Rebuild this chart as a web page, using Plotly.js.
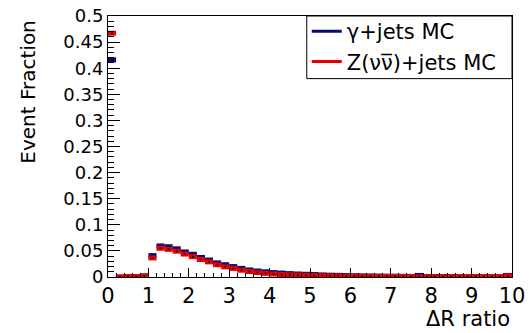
<!DOCTYPE html>
<html>
<head>
<meta charset="utf-8">
<script src="https://cdn.plot.ly/plotly-3.0.1.min.js"></script>
<style>html,body{margin:0;padding:0;background:#fff;}#chart{width:532px;height:333px;}</style>
</head>
<body>
<div id="chart"></div>
<script>
// Bin centres (width 0.2) of the ΔR ratio histogram
const binCenters = [0.1,0.3,0.5,0.7,0.9,1.1,1.3,1.5,1.7,1.9,2.1,2.3,2.5,2.7,2.9,3.1,3.3,3.5,3.7,3.9,4.1,4.3,4.5,4.7,4.9,5.1,5.3,5.5,5.7,5.9,6.1,6.3,6.5,6.7,6.9,7.1,7.3,7.5,7.7,7.9,8.1,8.3,8.5,8.7,8.9,9.1,9.3,9.5,9.7,9.9];
const binHalfWidth = 0.1;
// γ+jets MC
const gammaJets = [0.416,0.000,0.001,0.001,0.002,0.041,0.0595,0.058,0.054,0.048,0.0435,0.0375,0.0325,0.027,0.0235,0.020,0.0165,0.0135,0.0115,0.010,0.0085,0.0075,0.0065,0.0058,0.0052,0.0048,0.0040,0.0035,0.0032,0.0028,0.0024,0.0021,0.0019,0.0017,0.0015,0.0014,0.0012,0.0011,0.0030,0.0009,0.0008,0.0008,0.0007,0.0007,0.0006,0.0006,0.0005,0.0005,0.0005,0.0030];
// Z(νν̄)+jets MC
const zJets = [0.467,0.000,0.001,0.001,0.002,0.0365,0.055,0.053,0.0495,0.044,0.039,0.0335,0.029,0.0235,0.0195,0.0165,0.013,0.0105,0.0085,0.007,0.0057,0.0047,0.0042,0.0038,0.0034,0.0031,0.0028,0.0025,0.0022,0.0016,0.0015,0.0014,0.0013,0.0013,0.0012,0.0012,0.0011,0.0011,0.0003,0.0003,0.0003,0.0003,0.0003,0.0003,0.0003,0.0003,0.0003,0.0003,0.0003,0.0020];
const seriesNames = ["γ+jets MC", "Z(ν\u03BD\u0305)+jets MC"];
const xTickVals = [0,1,2,3,4,5,6,7,8,9,10];
const yTickVals = [0,0.05,0.1,0.15,0.2,0.25,0.3,0.35,0.4,0.45,0.5];
const yTickText = ["0","0.05","0.1","0.15","0.2","0.25","0.3","0.35","0.4","0.45","0.5"];

const BLUE = "#0a0a78", RED = "#e80000";
const FONT = "DejaVu Sans";

function histTrace(vals, color){
  return {
    type: "scatter", mode: "markers", x: binCenters, y: vals,
    marker: {color: "#000", size: 2},
    error_x: {type: "constant", value: binHalfWidth, width: 0, thickness: 5, color: color},
    cliponaxis: false, showlegend: false, hoverinfo: "skip"
  };
}
function legendTrace(name, color){
  return {type: "scatter", mode: "lines", x: [-1,-1], y: [-1,-1], name: name,
          line: {color: color, width: 3}, showlegend: true};
}

const data = [
  histTrace(gammaJets, BLUE),
  histTrace(zJets, RED),
  legendTrace(seriesNames[0], BLUE),
  legendTrace(seriesNames[1], RED)
];

const layout = {
  width: 532, height: 333,
  margin: {l: 108, r: 20, t: 15, b: 56},
  paper_bgcolor: "#fff", plot_bgcolor: "#fff",
  font: {family: FONT, color: "#000"},
  showlegend: true,
  legend: {x: 0.492, y: 1.015, xanchor: "left", yanchor: "top",
           bgcolor: "rgba(0,0,0,0)", borderwidth: 0,
           font: {family: FONT, size: 21, color: "#000"}, tracegroupgap: 0},
  shapes: [
    {type: "rect", xref: "paper", yref: "paper", x0: 0.492, x1: 1, y0: 0.76, y1: 1,
     fillcolor: "#fff", line: {color: "#000", width: 1}, layer: "above"}
  ],
  xaxis: {range: [0, 10], tickmode: "array", tickvals: xTickVals,
          ticks: "inside", ticklen: 9, tickcolor: "#000", tickwidth: 1,
          minor: {dtick: 0.2, ticks: "inside", ticklen: 4.5, tickcolor: "#000"},
          showline: true, linecolor: "#000", linewidth: 1, mirror: true,
          showgrid: false, zeroline: false,
          tickfont: {family: FONT, size: 21, color: "#000"}},
  yaxis: {range: [0, 0.5], tickmode: "array", tickvals: yTickVals, ticktext: yTickText,
          ticks: "inside", ticklen: 12, tickcolor: "#000", tickwidth: 1,
          minor: {dtick: 0.01, ticks: "inside", ticklen: 6, tickcolor: "#000"},
          showline: true, linecolor: "#000", linewidth: 1, mirror: true,
          showgrid: false, zeroline: false,
          tickfont: {family: FONT, size: 18, color: "#000"}},
  annotations: [
    {text: "Event Fraction", xref: "paper", yref: "paper", x: -0.198, y: 0.71,
     xanchor: "center", yanchor: "middle", textangle: -90, showarrow: false,
     font: {family: FONT, size: 20, color: "#000"}},
    {text: "ΔR ratio", xref: "paper", yref: "paper", x: 1, y: -0.16,
     xanchor: "right", yanchor: "middle", showarrow: false,
     font: {family: FONT, size: 21, color: "#000"}}
  ]
};

Plotly.newPlot("chart", data, layout, {staticPlot: true, displayModeBar: false});
</script>
</body>
</html>
